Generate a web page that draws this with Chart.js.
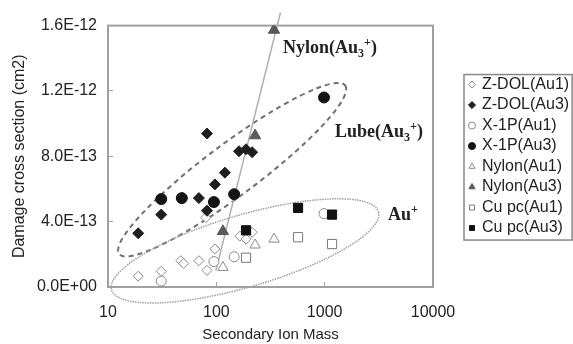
<!DOCTYPE html>
<html>
<head>
<meta charset="utf-8">
<script src="https://cdn.jsdelivr.net/npm/chart.js@4.4.1/dist/chart.umd.min.js"></script>
<style>
html, body { margin: 0; padding: 0; background: #fff; }
</style>
</head>
<body>
<canvas id="chart" width="573" height="344"></canvas>
<script>
const xTicks = [10, 100, 1000, 10000];
const yTicks = [0, 4e-13, 8e-13, 1.2e-12, 1.6e-12];
const yTickLabels = ['0.0E+00', '4.0E-13', '8.0E-13', '1.2E-12', '1.6E-12'];

const seriesNames = ['Z-DOL(Au1)', 'Z-DOL(Au3)', 'X-1P(Au1)', 'X-1P(Au3)', 'Nylon(Au1)', 'Nylon(Au3)', 'Cu pc(Au1)', 'Cu pc(Au3)'];

const zdolAu1Mass = [19, 31, 47, 50, 69, 82, 97, 80, 165, 188, 214];
const zdolAu1Value = [6.6e-14, 9.6e-14, 1.61e-13, 1.44e-13, 1.61e-13, 1.02e-13, 2.33e-13, 4.25e-13, 3.11e-13, 2.93e-13, 3.35e-13];
const zdolAu3Mass = [19, 31, 48, 69, 82, 97, 120, 82, 162, 188, 214];
const zdolAu3Value = [3.29e-13, 4.43e-13, 5.44e-13, 5.44e-13, 4.67e-13, 6.28e-13, 7.0e-13, 9.39e-13, 8.31e-13, 8.43e-13, 8.25e-13];
const x1pAu1Mass = [31, 95, 146, 986];
const x1pAu1Value = [3.6e-14, 1.56e-13, 1.85e-13, 4.49e-13];
const x1pAu3Mass = [31, 48, 95, 146, 986];
const x1pAu3Value = [5.38e-13, 5.44e-13, 5.2e-13, 5.68e-13, 1.16e-12];
const nylonAu1Mass = [115, 228, 341];
const nylonAu1Value = [1.2e-13, 2.57e-13, 2.93e-13];
const nylonAu3Mass = [115, 228, 341];
const nylonAu3Value = [3.41e-13, 9.27e-13, 1.573e-12];
const cupcAu1Mass = [188, 568, 1170];
const cupcAu1Value = [1.79e-13, 3.05e-13, 2.63e-13];
const cupcAu3Mass = [188, 568, 1170];
const cupcAu3Value = [3.47e-13, 4.84e-13, 4.43e-13];

// trend line through the Nylon(Au3) points
const nylonFitMass = [99, 391];
const nylonFitValue = [1.0e-13, 1.68e-12];

const pts = (xs, ys) => xs.map((x, i) => ({ x: x, y: ys[i] }));

const FONT = 'Liberation Sans, Arial, sans-serif';

// ellipses and labels drawn over the plot, centred on data coordinates
const ellipses = [
  { mass: 140, value: 7.18e-13, rx: 141, ry: 26, angle: -36.7, dash: [5, 4], color: '#707070', width: 2 },
  { mass: 184, value: 2.21e-13, rx: 139, ry: 36, angle: -16.3, dash: [1.5, 1], color: '#a0a0a0', width: 1.5 }
];
const notes = [
  { mass: 413, value: 1.43e-12, parts: [['Nylon(Au', 0], ['3', 1], ['+', -1], [')', 0]] },
  { mass: 1247, value: 9.21e-13, parts: [['Lube(Au', 0], ['3', 1], ['+', -1], [')', 0]] },
  { mass: 3846, value: 4.13e-13, parts: [['Au', 0], ['+', -1]] }
];

const overlay = {
  id: 'overlay',
  beforeDatasetsDraw(chart) {
    const ctx = chart.ctx, a = chart.chartArea;
    const xs = chart.scales.x, ys = chart.scales.y;
    ctx.save();
    ctx.strokeStyle = '#a0a0a0';
    ctx.lineWidth = 2;
    ctx.strokeRect(a.left, a.top, a.right - a.left, a.bottom - a.top);
    ellipses.forEach(e => {
      ctx.beginPath();
      ctx.setLineDash(e.dash);
      ctx.strokeStyle = e.color;
      ctx.lineWidth = e.width;
      ctx.ellipse(xs.getPixelForValue(e.mass), ys.getPixelForValue(e.value), e.rx, e.ry, e.angle * Math.PI / 180, 0, Math.PI * 2);
      ctx.stroke();
    });
    ctx.setLineDash([]);
    ctx.fillStyle = '#222';
    ctx.textBaseline = 'alphabetic';
    notes.forEach(n => {
      let x = xs.getPixelForValue(n.mass);
      const y = ys.getPixelForValue(n.value);
      n.parts.forEach(([t, s]) => {
        ctx.font = s ? 'bold 12px "Liberation Serif"' : 'bold 18px "Liberation Serif"';
        ctx.fillText(t, x, y + (s > 0 ? 4 : s < 0 ? -7 : 0));
        x += ctx.measureText(t).width;
      });
    });
    ctx.restore();
  },
  afterDraw(chart) {
    const boxes = chart.legend.legendHitBoxes;
    if (!boxes || !boxes.length) return;
    const ctx = chart.ctx;
    const l = Math.min(...boxes.map(b => b.left)) - 6;
    const t = Math.min(...boxes.map(b => b.top)) - 2;
    const r = Math.max(...boxes.map(b => b.left + b.width)) + 3;
    const b = Math.max(...boxes.map(b => b.top + b.height)) + 4;
    ctx.save();
    ctx.strokeStyle = '#888';
    ctx.lineWidth = 1.5;
    ctx.strokeRect(l, t, r - l, b - t);
    ctx.restore();
  }
};

const open = (style, radius, color) => ({
  pointStyle: style, pointRadius: radius, backgroundColor: '#fff', borderColor: color, borderWidth: 1
});
const solid = (style, radius, color) => ({
  pointStyle: style, pointRadius: radius, backgroundColor: color, borderColor: color, borderWidth: 1
});

const ctx = document.getElementById('chart');

new Chart(ctx, {
  type: 'scatter',
  data: {
    datasets: [
      { label: seriesNames[0], data: pts(zdolAu1Mass, zdolAu1Value), order: 8, ...open('rectRot', 5, '#8a8a8a') },
      { label: seriesNames[1], data: pts(zdolAu3Mass, zdolAu3Value), order: 7, ...solid('rectRot', 5.5, '#1e1e1e') },
      { label: seriesNames[2], data: pts(x1pAu1Mass, x1pAu1Value), order: 6, ...open('circle', 5, '#8a8a8a') },
      { label: seriesNames[3], data: pts(x1pAu3Mass, x1pAu3Value), order: 5, ...solid('circle', 5.5, '#151515') },
      { label: seriesNames[4], data: pts(nylonAu1Mass, nylonAu1Value), order: 4, ...open('triangle', 6, '#8a8a8a') },
      { label: seriesNames[5], data: pts(nylonAu3Mass, nylonAu3Value), order: 3, ...solid('triangle', 6.5, '#5a5a5a') },
      { label: seriesNames[6], data: pts(cupcAu1Mass, cupcAu1Value), order: 2, ...open('rect', 6.5, '#7a7a7a') },
      { label: seriesNames[7], data: pts(cupcAu3Mass, cupcAu3Value), order: 1, ...solid('rect', 6.5, '#111') },
      { label: 'fit', data: pts(nylonFitMass, nylonFitValue), order: 9, showLine: true, pointRadius: 0,
        borderColor: '#b0b0b0', borderWidth: 1.5, clip: false }
    ]
  },
  options: {
    responsive: false,
    animation: false,
    devicePixelRatio: 1,
    layout: { padding: { top: 19, left: 0, right: 0, bottom: 0 } },
    scales: {
      x: {
        type: 'logarithmic', min: 10, max: 10000,
        afterBuildTicks: s => { s.ticks = xTicks.map(v => ({ value: v })); },
        afterFit: s => { s.height = 57; },
        ticks: { callback: v => String(v), color: '#222', font: { size: 16, family: FONT }, padding: 21, maxRotation: 0, autoSkip: false },
        grid: { drawOnChartArea: false, tickLength: -5, color: '#a0a0a0' },
        border: { color: '#a0a0a0', width: 2 },
        title: { display: true, text: 'Secondary Ion Mass', color: '#222', font: { size: 15, family: FONT }, padding: { top: 0, bottom: 0 } }
      },
      y: {
        type: 'linear', min: 0, max: 1.6e-12,
        afterBuildTicks: s => { s.ticks = yTicks.map(v => ({ value: v })); },
        afterFit: s => { s.width = 108; },
        ticks: { callback: (v, i) => yTickLabels[i], color: '#222', font: { size: 16, family: FONT }, padding: 16 },
        grid: { drawOnChartArea: false, tickLength: -5, color: '#a0a0a0' },
        border: { color: '#a0a0a0', width: 2 },
        title: { display: true, text: 'Damage cross section (cm2)', color: '#222', font: { size: 16, family: FONT }, padding: { top: 10, bottom: 0 } }
      },
      y2: {
        type: 'linear', position: 'right',
        afterFit: s => { s.width = 32.5; },
        ticks: { display: false },
        grid: { display: false },
        border: { display: false }
      }
    },
    plugins: {
      tooltip: { enabled: false },
      legend: {
        position: 'right',
        fullSize: false,
        maxWidth: 107.5,
        labels: {
          usePointStyle: true,
          boxWidth: 4,
          boxHeight: 5,
          padding: 4.5,
          color: '#222',
          font: { size: 16, family: FONT },
          filter: item => item.datasetIndex < 8,
          sort: (a, b) => a.datasetIndex - b.datasetIndex
        }
      }
    }
  },
  plugins: [overlay]
});
</script>
</body>
</html>
